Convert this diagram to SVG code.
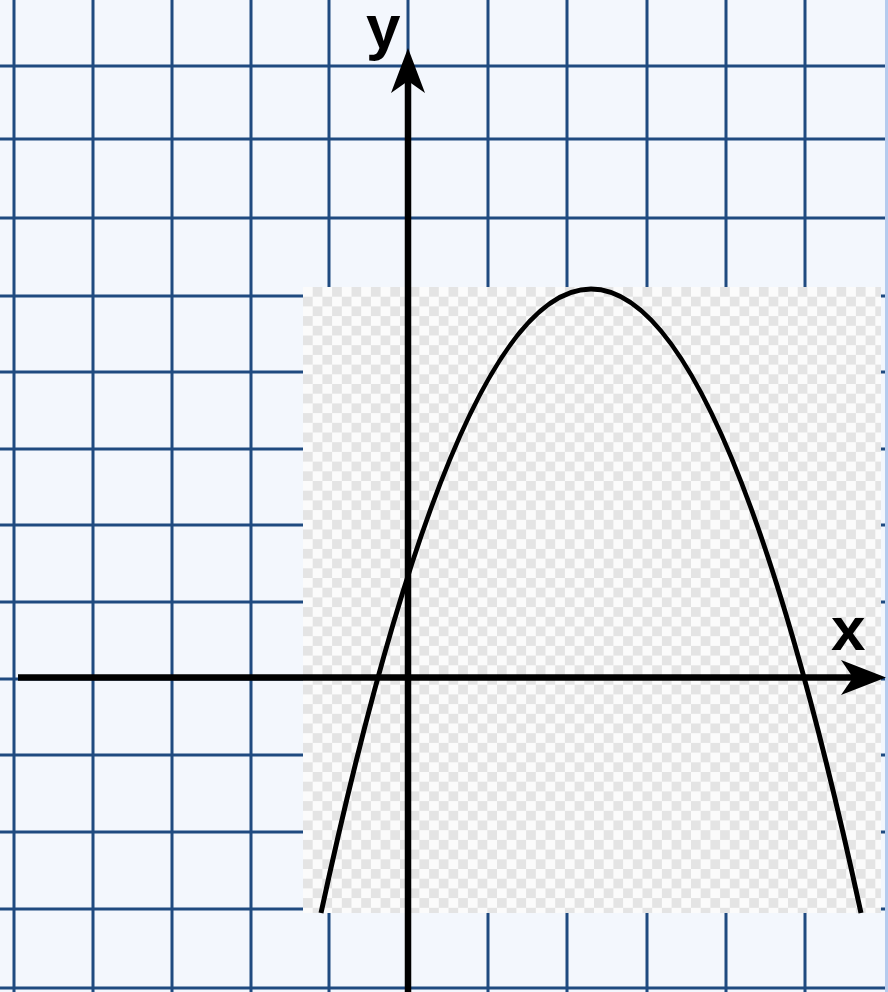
<svg xmlns="http://www.w3.org/2000/svg" width="888" height="992" viewBox="0 0 888 992">
<style>
.grid line{stroke:#1f4a80;stroke-width:3}
.axis{stroke:#000;stroke-width:6.5;fill:none}
.curve{stroke:#000;stroke-width:5;fill:none}
.lbl{font-family:"Liberation Sans",Arial,sans-serif;font-weight:bold;font-size:62px;fill:#000}
</style>
<defs>
<pattern id="chk" x="303" y="287" width="19.4" height="19.4" patternUnits="userSpaceOnUse">
<rect width="19.4" height="19.4" fill="#fbfbfb"/>
<rect x="9.7" width="9.7" height="9.7" fill="#e4e4e4"/>
<rect y="9.7" width="9.7" height="9.7" fill="#e4e4e4"/>
</pattern>
</defs>
<rect width="888" height="992" fill="#f3f7fd"/>
<g class="grid" id="grid">
<line x1="14" y1="0" x2="14" y2="992"/>
<line x1="93" y1="0" x2="93" y2="992"/>
<line x1="172" y1="0" x2="172" y2="992"/>
<line x1="251" y1="0" x2="251" y2="992"/>
<line x1="329" y1="0" x2="329" y2="992"/>
<line x1="408" y1="0" x2="408" y2="992"/>
<line x1="488" y1="0" x2="488" y2="992"/>
<line x1="567" y1="0" x2="567" y2="992"/>
<line x1="647" y1="0" x2="647" y2="992"/>
<line x1="726" y1="0" x2="726" y2="992"/>
<line x1="805" y1="0" x2="805" y2="992"/>
<line x1="0" y1="66" x2="888" y2="66"/>
<line x1="0" y1="139" x2="888" y2="139"/>
<line x1="0" y1="218" x2="888" y2="218"/>
<line x1="0" y1="296" x2="888" y2="296"/>
<line x1="0" y1="372" x2="888" y2="372"/>
<line x1="0" y1="449" x2="888" y2="449"/>
<line x1="0" y1="525" x2="888" y2="525"/>
<line x1="0" y1="602" x2="888" y2="602"/>
<line x1="0" y1="679" x2="888" y2="679"/>
<line x1="0" y1="755" x2="888" y2="755"/>
<line x1="0" y1="832" x2="888" y2="832"/>
<line x1="0" y1="909" x2="888" y2="909"/>
<line x1="0" y1="988" x2="888" y2="988"/>
</g>
<rect x="885" y="0" width="3" height="992" fill="#b4cbee"/>
<rect id="plot" x="303" y="287" width="578" height="626" fill="url(#chk)"/>
<g id="connectors">
<line class="axis" x1="18" y1="677.5" x2="856" y2="677.5"/>
<path d="M886,677.5 L841,660 L853,677.5 L841,695 Z" fill="#000"/>
<line class="axis" x1="408" y1="992" x2="408" y2="80"/>
<path d="M408,48 L391,93 L408,81 L425,93 Z" fill="#000"/>
</g>
<g id="parabola">
<path class="curve" d="M321,913 Q591,-335 861,913"/>
</g>
<g id="labels">
<text class="lbl" x="366" y="48">y</text>
<text class="lbl" x="831" y="650">x</text>
</g>
</svg>
